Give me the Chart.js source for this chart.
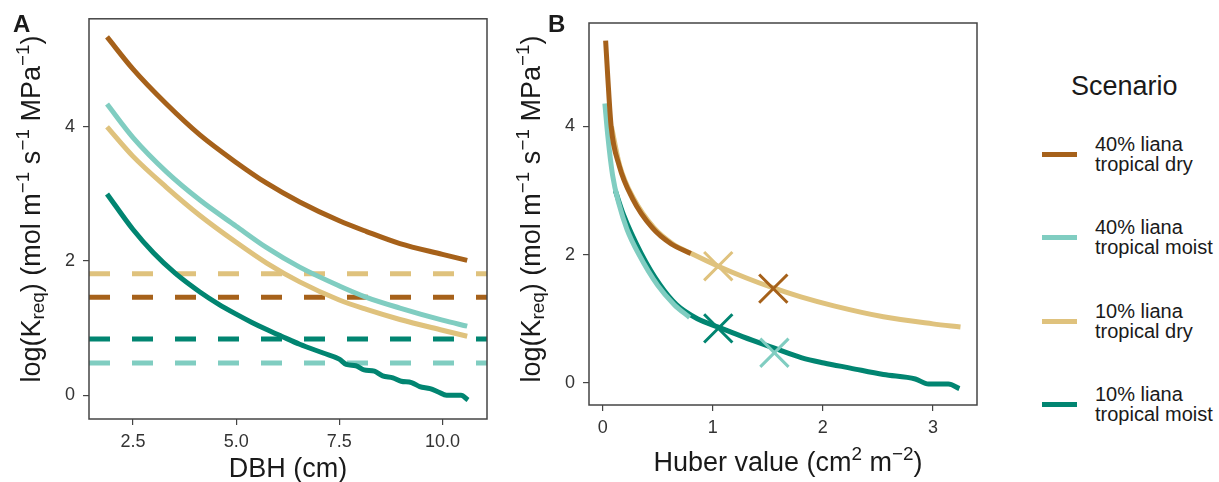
<!DOCTYPE html>
<html>
<head>
<meta charset="utf-8">
<script src="https://cdn.jsdelivr.net/npm/chart.js@4.4.1/dist/chart.umd.min.js"></script>
<style>
  body { margin: 0; background: #fff; }
  #wrap { position: relative; width: 1219px; height: 482px; overflow: hidden; font-family: 'Liberation Sans', Arial, sans-serif; color: #1a1a1a; }
  canvas { position: absolute; top: 0; }
  .lbl { position: absolute; white-space: nowrap; line-height: 1; }
  .panel { font-size: 24px; font-weight: bold; }
  .title { font-size: 27px; transform: translate(-50%, -50%); }
  .ytitle { font-size: 27px; transform: translate(-50%, -50%) rotate(-90deg); }
  .title sup, .ytitle sup { font-size: 0.7em; line-height: 0; vertical-align: 0.55em; }
  .ytitle sub { font-size: 0.7em; line-height: 0; vertical-align: -0.25em; }
  .legend-title { font-size: 27px; transform: translateY(-50%); }
  .item { position: absolute; display: flex; align-items: center; transform: translateY(-50%); }
  .item .sw { width: 35px; height: 5px; margin-right: 18px; }
  .item .tx { font-size: 20px; line-height: 20px; }
</style>
</head>
<body>
<div id="wrap">
  <canvas id="chartA" width="500" height="482" style="left:0"></canvas>
  <canvas id="chartB" width="500" height="482" style="left:500px"></canvas>

  <div class="lbl panel" style="left:13px; top:12px">A</div>
  <div class="lbl panel" style="left:548px; top:12px">B</div>

  <div class="lbl ytitle" style="left:31px; top:209px">log(K<sub>req</sub>) (mol m<sup>&minus;1</sup> s<sup>&minus;1</sup> MPa<sup>&minus;1</sup>)</div>
  <div class="lbl ytitle" style="left:531px; top:209px">log(K<sub>req</sub>) (mol m<sup>&minus;1</sup> s<sup>&minus;1</sup> MPa<sup>&minus;1</sup>)</div>
  <div class="lbl title" style="left:288px; top:468px">DBH (cm)</div>
  <div class="lbl title" style="left:788px; top:462px">Huber value (cm<sup>2</sup> m<sup>&minus;2</sup>)</div>

  <div class="lbl legend-title" style="left:1071px; top:86px">Scenario</div>
  <div id="legend"></div>
</div>

<script>
// scenarios, in legend order
var scenarioLabels = ['40% liana<br>tropical dry', '40% liana<br>tropical moist', '10% liana<br>tropical dry', '10% liana<br>tropical moist'];
var scenarioColors = ['#a6611a', '#80cdc1', '#dfc27d', '#018571'];

// panel A: K_req against DBH
var dbhA = [1.87, 2.5, 3.31, 4.12, 5.0, 5.74, 6.54, 7.5, 8.16, 8.97, 10.0, 10.6];
var kDry40A = [5.34, 4.86, 4.34, 3.88, 3.47, 3.16, 2.88, 2.60, 2.44, 2.26, 2.10, 2.01];
var kMoist40A = [4.34, 3.84, 3.33, 2.91, 2.52, 2.20, 1.91, 1.63, 1.46, 1.30, 1.12, 1.03];
var kDry10A = [4.00, 3.56, 3.10, 2.68, 2.28, 1.97, 1.69, 1.42, 1.28, 1.13, 0.97, 0.88];
var dbhMoist10A = [1.87, 2.5, 3.0, 3.52, 4.12, 4.57, 5.0, 5.37, 5.74, 6.1, 6.54, 7.11, 7.5, 7.67, 7.9, 8.1, 8.35, 8.55, 8.8, 9.0, 9.25, 9.45, 9.7, 9.9, 10.1, 10.45, 10.62];
var kMoist10A = [3.00, 2.47, 2.12, 1.82, 1.54, 1.36, 1.21, 1.09, 0.98, 0.88, 0.76, 0.63, 0.54, 0.46, 0.44, 0.38, 0.36, 0.29, 0.26, 0.21, 0.19, 0.13, 0.10, 0.05, 0.00, 0.00, -0.07];
// dashed reference lines, same order as scenarios
var kObserved = [1.46, 0.48, 1.81, 0.84];

// panel B: K_req against Huber value
var huberDry40 = [0.027, 0.047, 0.077, 0.15, 0.27, 0.45, 0.62, 0.80];
var kDry40B = [5.34, 4.76, 4.00, 3.39, 2.88, 2.42, 2.17, 2.02];
var huberMoist40 = [0.02, 0.047, 0.09, 0.15, 0.22, 0.33, 0.50, 0.65, 0.79];
var kMoist40B = [4.36, 3.85, 3.24, 2.78, 2.40, 2.00, 1.52, 1.22, 1.02];
var huberDry10 = [0.08, 0.155, 0.28, 0.465, 0.635, 0.815, 1.05, 1.30, 1.55, 1.80, 2.10, 2.55, 3.00, 3.25];
var kDry10B = [4.00, 3.39, 2.88, 2.42, 2.17, 2.01, 1.82, 1.64, 1.48, 1.34, 1.20, 1.03, 0.92, 0.87];
var huberMoist10 = [0.115, 0.19, 0.35, 0.52, 0.67, 0.86, 1.05, 1.27, 1.56, 1.81, 2.01, 2.25, 2.55, 2.84, 2.96, 3.14, 3.24];
var kMoist10B = [3.00, 2.62, 2.02, 1.53, 1.22, 1.00, 0.87, 0.72, 0.54, 0.39, 0.31, 0.23, 0.13, 0.06, -0.02, -0.02, -0.09];
// observed points (crosses), same order as scenarios
var huberObserved = [1.55, 1.56, 1.05, 1.05];
var kObservedB = [1.47, 0.47, 1.82, 0.85];

var ticksAx = [2.5, 5, 7.5, 10];
var ticksBx = [0, 1, 2, 3];
var ticksY = [0, 2, 4];

var rangeAx = [1.433, 11.08], rangeAy = [-0.353, 5.61];
var rangeBx = [-0.124, 3.40], rangeBy = [-0.346, 5.615];

function pts(xs, ys) {
    return xs.map(function (x, i) { return {x: x, y: ys[i]}; });
}

function curve(xs, ys, color, order) {
    return {
        type: 'line', data: pts(xs, ys), borderColor: color, borderWidth: 5,
        borderCapStyle: 'butt', borderJoinStyle: 'round',
        cubicInterpolationMode: 'monotone', pointRadius: 0, order: order
    };
}

var panelBox = {
    id: 'panelBox',
    afterDraw: function (chart) {
        var a = chart.chartArea, ctx = chart.ctx;
        ctx.save();
        ctx.strokeStyle = '#444';
        ctx.lineWidth = 1.5;
        ctx.strokeRect(a.left, a.top, a.right - a.left, a.bottom - a.top);
        ctx.restore();
    }
};

function axis(range, ticks, fmt, size, pad) {
    return {
        type: 'linear', min: range[0], max: range[1],
        afterBuildTicks: function (s) { s.ticks = ticks.map(function (v) { return {value: v}; }); },
        afterFit: function (s) { if (s.isHorizontal()) s.height = size; else s.width = size; },
        border: {display: false},
        grid: {drawOnChartArea: false, tickLength: 6, color: '#444', lineWidth: 1.2},
        ticks: {
            color: '#333', padding: pad, autoSkip: false, maxRotation: 0,
            font: {family: 'Liberation Sans', size: 18},
            callback: fmt
        }
    };
}

function options(rx, ry, tx, fmtX, xh) {
    return {
        responsive: false, animation: false, devicePixelRatio: 1,
        layout: {padding: {top: 14, right: 13, left: 0, bottom: 0}},
        plugins: {legend: {display: false}, tooltip: {enabled: false}},
        events: [],
        scales: {
            x: axis(rx, tx, fmtX, xh, 6),
            y: axis(ry, ticksY, function (v) { return String(v); }, 89, 8)
        }
    };
}

// panel A
var datasetsA = [
    curve(dbhA, kDry40A, scenarioColors[0], 1),
    curve(dbhA, kMoist40A, scenarioColors[1], 1),
    curve(dbhA, kDry10A, scenarioColors[2], 1),
    curve(dbhMoist10A, kMoist10A, scenarioColors[3], 1)
];
kObserved.forEach(function (k, i) {
    datasetsA.push({
        type: 'line', data: [{x: rangeAx[0], y: k}, {x: rangeAx[1], y: k}],
        borderColor: scenarioColors[i], borderWidth: 5, borderDash: [21, 22],
        borderCapStyle: 'butt', pointRadius: 0, order: 5
    });
});

new Chart(document.getElementById('chartA'), {
    type: 'line',
    data: {datasets: datasetsA},
    options: options(rangeAx, rangeAy, ticksAx, function (v) { return v.toFixed(1); }, 63),
    plugins: [panelBox]
});

// panel B
var datasetsB = [
    curve(huberDry40, kDry40B, scenarioColors[0], 2),
    curve(huberMoist40, kMoist40B, scenarioColors[1], 2),
    curve(huberDry10, kDry10B, scenarioColors[2], 3),
    curve(huberMoist10, kMoist10B, scenarioColors[3], 3)
];
huberObserved.forEach(function (h, i) {
    datasetsB.push({
        type: 'scatter', data: [{x: h, y: kObservedB[i]}],
        pointStyle: 'crossRot', pointRadius: 20, pointBorderWidth: 3,
        borderColor: scenarioColors[i], backgroundColor: scenarioColors[i], order: 1
    });
});

new Chart(document.getElementById('chartB'), {
    type: 'line',
    data: {datasets: datasetsB},
    options: options(rangeBx, rangeBy, ticksBx, function (v) { return String(v); }, 77),
    plugins: [panelBox]
});

// legend
var legendY = [154, 237, 321, 404];
var legend = document.getElementById('legend');
scenarioLabels.forEach(function (label, i) {
    var item = document.createElement('div');
    item.className = 'item';
    item.style.left = '1042px';
    item.style.top = legendY[i] + 'px';
    item.innerHTML = '<span class="sw" style="background:' + scenarioColors[i] + '"></span><span class="tx">' + label + '</span>';
    legend.appendChild(item);
});
</script>
</body>
</html>
